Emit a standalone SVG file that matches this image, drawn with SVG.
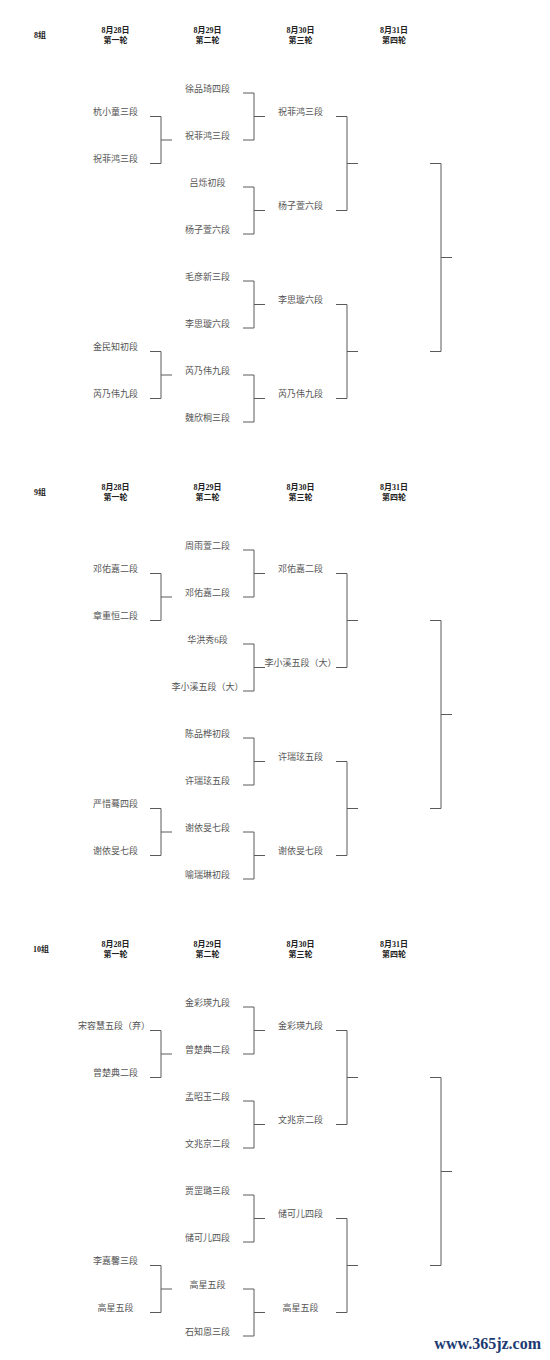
<svg xmlns="http://www.w3.org/2000/svg" width="550" height="1360" viewBox="0 0 550 1360">
<style>
.bg{fill:#fff}
.hd{font-family:"Liberation Serif","Noto Sans CJK SC",serif;font-size:8px;font-weight:bold;fill:#222;text-anchor:middle}
.gl{font-family:"Liberation Serif","Noto Sans CJK SC",serif;font-size:8px;font-weight:bold;fill:#222}
.nm{font-family:"Liberation Serif","Noto Sans CJK SC",serif;font-size:9px;fill:#555;text-anchor:middle}
.ln{fill:none;stroke:#5a5a5a;stroke-width:1}
.wm{font-family:"Liberation Serif",serif;font-size:16px;font-weight:bold;fill:#1c3a72;text-anchor:end}
</style>
<defs>
<g id="brackets">
<path class="ln" d="M150 116.5H161V163.5H150M161 140H172"/>
<path class="ln" d="M150 351.5H161V398.5H150M161 375H172"/>
<path class="ln" d="M243 93H254V140H243M254 116.5H265"/>
<path class="ln" d="M243 187H254V234H243M254 210.5H265"/>
<path class="ln" d="M243 281H254V328H243M254 304.5H265"/>
<path class="ln" d="M243 375H254V422H243M254 398.5H265"/>
<path class="ln" d="M336 116.5H347V210.5H336M347 163.5H358"/>
<path class="ln" d="M336 304.5H347V398.5H336M347 351.5H358"/>
<path class="ln" d="M430 163.5H441V351.5H430M441 257.5H452"/>
</g>
</defs>
<rect class="bg" x="0" y="0" width="550" height="1360"/>
<g id="connectors">
<use href="#brackets"/>
<use href="#brackets" y="457"/>
<use href="#brackets" y="914"/>
</g>

<g id="group8">
<g id="g8-header">
<text class="gl" x="34" y="38">8组</text>
<text class="hd" x="115.5" y="33">8月28日</text><text class="hd" x="115.5" y="43">第一轮</text>
<text class="hd" x="207.5" y="33">8月29日</text><text class="hd" x="207.5" y="43">第二轮</text>
<text class="hd" x="300.5" y="33">8月30日</text><text class="hd" x="300.5" y="43">第三轮</text>
<text class="hd" x="394" y="33">8月31日</text><text class="hd" x="394" y="43">第四轮</text>
</g>
<g id="g8-r1-1"><text class="nm" x="115.5" y="115">杭小童三段</text></g>
<g id="g8-r1-2"><text class="nm" x="115.5" y="162">祝菲鸿三段</text></g>
<g id="g8-r1-3"><text class="nm" x="115.5" y="350">金民知初段</text></g>
<g id="g8-r1-4"><text class="nm" x="115.5" y="397">芮乃伟九段</text></g>
<g id="g8-r2-1"><text class="nm" x="207.5" y="91.5">徐品琦四段</text></g>
<g id="g8-r2-2"><text class="nm" x="207.5" y="138.5">祝菲鸿三段</text></g>
<g id="g8-r2-3"><text class="nm" x="207.5" y="185.5">吕烁初段</text></g>
<g id="g8-r2-4"><text class="nm" x="207.5" y="232.5">杨子萱六段</text></g>
<g id="g8-r2-5"><text class="nm" x="207.5" y="279.5">毛彦新三段</text></g>
<g id="g8-r2-6"><text class="nm" x="207.5" y="326.5">李思璇六段</text></g>
<g id="g8-r2-7"><text class="nm" x="207.5" y="373.5">芮乃伟九段</text></g>
<g id="g8-r2-8"><text class="nm" x="207.5" y="420.5">魏欣桐三段</text></g>
<g id="g8-r3-1"><text class="nm" x="300.5" y="115">祝菲鸿三段</text></g>
<g id="g8-r3-2"><text class="nm" x="300.5" y="209">杨子萱六段</text></g>
<g id="g8-r3-3"><text class="nm" x="300.5" y="303">李思璇六段</text></g>
<g id="g8-r3-4"><text class="nm" x="300.5" y="397">芮乃伟九段</text></g>
</g>

<g id="group9" transform="translate(0,457)">
<g id="g9-header">
<text class="gl" x="34" y="38">9组</text>
<text class="hd" x="115.5" y="33">8月28日</text><text class="hd" x="115.5" y="43">第一轮</text>
<text class="hd" x="207.5" y="33">8月29日</text><text class="hd" x="207.5" y="43">第二轮</text>
<text class="hd" x="300.5" y="33">8月30日</text><text class="hd" x="300.5" y="43">第三轮</text>
<text class="hd" x="394" y="33">8月31日</text><text class="hd" x="394" y="43">第四轮</text>
</g>
<g id="g9-r1-1"><text class="nm" x="115.5" y="115">邓佑嘉二段</text></g>
<g id="g9-r1-2"><text class="nm" x="115.5" y="162">章重恒二段</text></g>
<g id="g9-r1-3"><text class="nm" x="115.5" y="350">严惜蓦四段</text></g>
<g id="g9-r1-4"><text class="nm" x="115.5" y="397">谢依旻七段</text></g>
<g id="g9-r2-1"><text class="nm" x="207.5" y="91.5">周雨萱二段</text></g>
<g id="g9-r2-2"><text class="nm" x="207.5" y="138.5">邓佑嘉二段</text></g>
<g id="g9-r2-3"><text class="nm" x="207.5" y="185.5">华洪秀6段</text></g>
<g id="g9-r2-4"><text class="nm" x="207.5" y="232.5">李小溪五段（大）</text></g>
<g id="g9-r2-5"><text class="nm" x="207.5" y="279.5">陈品桦初段</text></g>
<g id="g9-r2-6"><text class="nm" x="207.5" y="326.5">许瑞玹五段</text></g>
<g id="g9-r2-7"><text class="nm" x="207.5" y="373.5">谢依旻七段</text></g>
<g id="g9-r2-8"><text class="nm" x="207.5" y="420.5">喻瑞琳初段</text></g>
<g id="g9-r3-1"><text class="nm" x="300.5" y="115">邓佑嘉二段</text></g>
<g id="g9-r3-2"><text class="nm" x="300.5" y="209">李小溪五段（大）</text></g>
<g id="g9-r3-3"><text class="nm" x="300.5" y="303">许瑞玹五段</text></g>
<g id="g9-r3-4"><text class="nm" x="300.5" y="397">谢依旻七段</text></g>
</g>

<g id="group10" transform="translate(0,914)">
<g id="g10-header">
<text class="gl" x="33" y="38">10组</text>
<text class="hd" x="115.5" y="33">8月28日</text><text class="hd" x="115.5" y="43">第一轮</text>
<text class="hd" x="207.5" y="33">8月29日</text><text class="hd" x="207.5" y="43">第二轮</text>
<text class="hd" x="300.5" y="33">8月30日</text><text class="hd" x="300.5" y="43">第三轮</text>
<text class="hd" x="394" y="33">8月31日</text><text class="hd" x="394" y="43">第四轮</text>
</g>
<g id="g10-r1-1"><text class="nm" x="114" y="115">宋容慧五段（弃）</text></g>
<g id="g10-r1-2"><text class="nm" x="115.5" y="162">曾楚典二段</text></g>
<g id="g10-r1-3"><text class="nm" x="115.5" y="350">李嘉馨三段</text></g>
<g id="g10-r1-4"><text class="nm" x="115.5" y="397">高星五段</text></g>
<g id="g10-r2-1"><text class="nm" x="207.5" y="91.5">金彩瑛九段</text></g>
<g id="g10-r2-2"><text class="nm" x="207.5" y="138.5">曾楚典二段</text></g>
<g id="g10-r2-3"><text class="nm" x="207.5" y="185.5">孟昭玉二段</text></g>
<g id="g10-r2-4"><text class="nm" x="207.5" y="232.5">文兆京二段</text></g>
<g id="g10-r2-5"><text class="nm" x="207.5" y="279.5">贾罡璐三段</text></g>
<g id="g10-r2-6"><text class="nm" x="207.5" y="326.5">储可儿四段</text></g>
<g id="g10-r2-7"><text class="nm" x="207.5" y="373.5">高星五段</text></g>
<g id="g10-r2-8"><text class="nm" x="207.5" y="420.5">石知恩三段</text></g>
<g id="g10-r3-1"><text class="nm" x="300.5" y="115">金彩瑛九段</text></g>
<g id="g10-r3-2"><text class="nm" x="300.5" y="209">文兆京二段</text></g>
<g id="g10-r3-3"><text class="nm" x="300.5" y="303">储可儿四段</text></g>
<g id="g10-r3-4"><text class="nm" x="300.5" y="397">高星五段</text></g>
</g>

<g id="watermark"><text class="wm" x="541" y="1349">www.365jz.com</text></g>
</svg>
